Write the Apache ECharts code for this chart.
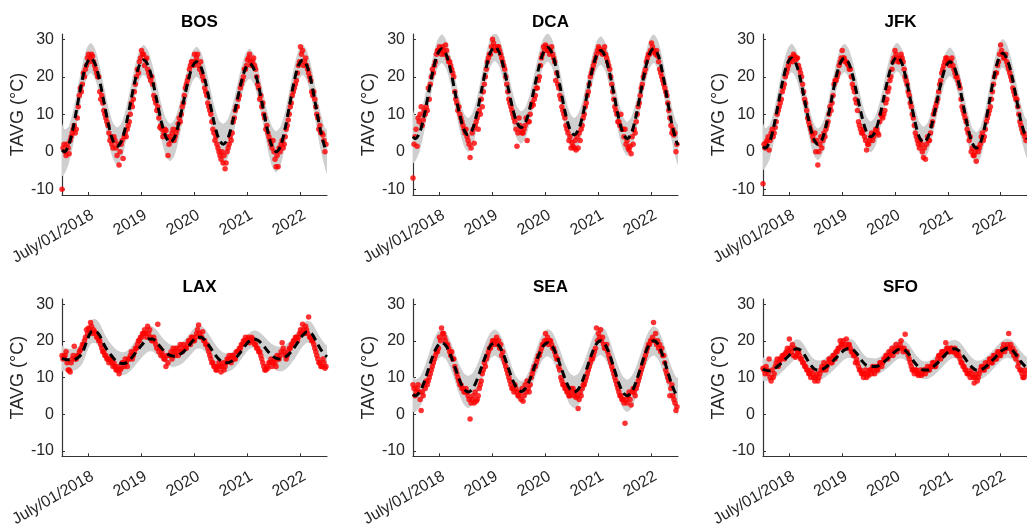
<!DOCTYPE html>
<html><head><meta charset="utf-8">
<script src="https://cdn.jsdelivr.net/npm/echarts@6/dist/echarts.min.js"></script>
<style>html,body{margin:0;padding:0;background:#fff}#c{width:1027px;height:529px}</style>
</head><body><div id="c"></div>
<script>
// ---------- data ----------
const stations = ['BOS', 'DCA', 'JFK', 'LAX', 'SEA', 'SFO'];
const xTickValues = [2018.5, 2019.5, 2020.5, 2021.5, 2022.5];
const xTickLabels = ['July/01/2018', '2019', '2020', '2021', '2022'];
const yTickValues = [-10, 0, 10, 20, 30];
const yLabel = 'TAVG (°C)';

// observed values, every two weeks from 2018-01-01 (obs) and one week later (obs2)
const BOS_obs = [-10,2,-1,1,3,5,7,6,12,17,18,20,23,26,25,25.5,23,21,20,14,13,10,8,5,4,1,
  3,-1,-3.5,2,-1.8,5,6,8,13,14,18,22,24,27,26,24.5,22,20,20,15,13,12,6.5,6,5,5.7,
  -1,4,5,3,5,7.5,8,12,15,18,20,23,24,26,25,23,24,20,17,15,12,10,6,3,2,0,
  -2,-3,-4.5,0,2,3,8,11,12,15,18,20,22,24.5,26,23,25,22,18,14,12,10,6,5,3,1,
  0,-4,-4,0,3,2,6,8.5,12,15,17,19,23,28,27,24,23,21,19,15,14,10,6,5,4.5,0];
const BOS_obs2 = [1,0,2,-0.5,4,6,5,9,15,16,21,22,25,24,26,24,22,20,16,15,11,9,7,3,2,4,
  1,2,0,3,4,4,7,10,12,16,20,21,25,26,23,25,21,19,18,14,11,9,7,4,6,4,
  2,3,6,4,6,9,10,13,17,19,22,24,23,24,26,22,21,19,16,13,11,8,5,4,1,-1,
  0,-1,-3,1,4,5,9,12,14,17,19,22,23,25,24,24,23,20,17,15,13,9,7,4,2,3,
  -2,-1,1,2,1,4,7,10,13,16,18,21,24,26,23,25,22,20,16,16,12,9,7,5,3,2];
const DCA_obs = [-7,4,1.5,8,12,8.5,10,11,14,20,21,24,27,28,26,27,28.5,25,24,22,20,14,11,10,8,6,
  6,3,-1.5,5,2.3,8,6,10,12,18,22,25,26,30,28,27,28,26,24,22,18,14,12,10,8,1.5,
  9,6,5,7,3,8,12,12.5,15,17,20,25,28,28.5,27,26,28,25,19,18,15,12,10,7,5,4,
  2.5,1,0.5,1,3,7,10,13,16,20,22,24,26,28,27,26,28,25,23,20,16,12,10,8,10,6,
  6,3,0.5,-0.5,2,5,10,13,17,20,22,25,26,29,27,26,25.5,22,20,18,16,13,9,5,4.5,0];
const DCA_obs2 = [2,6,9,10,7,11,12,17,18,22,23,26,27,27,28,26,27,24,23,21,16,13,12,9,7,5,
  4,2,1,6,7,9,11,14,16,20,24,26,28,29,27,28,27,25,23,20,16,13,11,9,6,5,
  7,5,6,9,8,10,13,14,17,19,23,26,27,28,27,27,26,24,21,17,14,11,9,6,3,1,
  1.5,3,4,5,6,9,12,15,18,21,23,25,27,27.5,26.5,27,26,24,22,18,14,11,8,7,6,4,
  2,1,1.5,4,6,8,12,15,18,21,24,26,27,28,26.5,27,24,21,19,17,15,11,7,6,5,2];
const JFK_obs = [-8.5,1,3,0.5,5,4,6.5,10,12,14,17,20,22,24,25,26,24.5,25,22,20,16,13,9,7,5,3,
  0,-3.5,2,1,5,6,8,12,13,18,19,21,24,27,25,24,23,22,18,16,13,8,6,5,4,0.5,
  2,4,3,5,6,4.5,10,9,11,14,17,20,24,27,25,24,26,24,20,18,15,12,9,5,3,1,
  2,-1.5,-2,4,3,7,10,12,14,18,21,23,25,24,23,25,22,20,19,17,12,10,8,5,4,1,
  -1,-2.5,0,2,5,4,8,10,12,16,20,21,24,28.5,26,25,24,22,20,17,15,14,10,7,5,4];
const JFK_obs2 = [2,2.5,4,3,6,5,8,11,13,16,18,21,23,25,24,25.5,25,23,21,18,14,11,8,6,4,5,
  3,0,4,3,4,7,10,11,15,19,20,23,25,25,24,23.5,22,20,17,14,11,7,5,6,3,2,
  3,5,4,6,5,8,9.5,10,13,16,19,22,25,26,24,25,25,22,19,16,13,10,7,4,2,3,
  0,1,2,3,5,8,11,13,16,19,22,24,25,24,24,23,21,20,18,14,11,9,6,3,0,-1,
  0,1,1,4,3,6,9,11,14,18,21,23,26,27,25,26,23,21,19,16,14,12,8,6,5,3];
const LAX_obs = [16,15.5,17,12,11.5,15,18.5,15,16,17.5,19,20,23,23.5,25,22,22.5,21,20,19,17,16,15,14,15,13,
  13,12,11,12.5,14,15,13,15,17,16,18,19,20,21,22,22,24,23,20,21,19,24.5,18,17,15,13,
  14,16,15,17,18,16,19,17,18,18,20,19,21,20,22,24.3,21,22.5,20,19,17,15,14,13,12,14,
  11.5,14,13,15,16,14,16,15,17,18,19,20,21,20.5,19.5,21,20,19,18,17,15,13,12,12.5,14,13,
  15,13,15,16,19.5,17,15,17,18,19,20,21,21,23,24.5,22,23,26.5,21,20,18,16,14,13,15,12.5];
const LAX_obs2 = [15,16,14,12,14,16,15,16,17,18,19,21,22,23,24,23,22,21,20,18,17,16,15,15,14,14,
  12,13,12,14,13,14,15,16,15,17,18,20,21,22,23,21,22,21,20,20,18,17,16,16,15,16,
  16,17,18,16,17,18,17,19,18,19,20,21,20,21,23,22,21,20,19,18,16,14,13,12,13,13,
  13,12,14,15,15,16,15,17,17,18,19,20,20,21,20,20.5,19,18,17,16,14,12,13,14,15,14,
  14,16,15,17,18,16,16,18,19,20,21,20,22,22,23,24,22,21,20,19,17,15,14,13,14,13];
const SEA_obs = [8,5,7,6,1,5,7,8,10,12,14,16,17,21,23.5,22,20,19,17,17,15,12,10,8,7,6,
  7,5,-1.3,4,3,3.5,5,8,11,14,15,17,18,20,19,21,20,19,17,14,12,10,8,7,8,6,
  5,4,3.5,8,9,6,10,12,13,15,16,18,19,22,21,20,19,18,16,15,12,9,8,7,6,5,
  6,5,4.5,1.5,6,7,8,10,12,14,15,17,23.5,22,23,21,18,19,16,14,12,10,8,6,5,4,
  -2.5,3,6,2.5,7,5,8,10,12,14,16,18,19,20,25,22,20,19,18,16,12,10,5,8,4,1];
const SEA_obs2 = [7,6,8,4,6,8,9,9,11,13,15,17,18,20,22,21,19,18,16,15,13,11,9,8,7,6,
  6,4,3,5,6,4,7,9,12,13,16,18,19,20,20,19,18,16,15,13,11,9,7,6,7,5,
  6,7,5,6,7,8,11,13,14,16,17,19,20,20,19,20,18,17,15,13,10,8,7,6,5,7,
  7,6,5,4,5,8,9,11,13,15,16,18,20,21,20,19,18,17,15,13,11,9,7,5,4,3,
  4,5,4,6,6,7,9,11,13,15,17,19,20,21,20,19,18,17,16,14,11,9,7,5,3,2];
const SFO_obs = [12.5,11,12,15,9,10,13,15,14,15,16,16.5,18,20.5,17,16,15.5,17,16,15,14,13,12,11,12,10,
  10,9,11,13,14,12,14,15,14,16,17,18,20,19,18,20.5,19,18,17,16,15,13,12,11,11,10,
  10.5,12,13,11,12,13,14,14,15,16,17,17,16,18,17,18,20,17,21.8,17,15,13,12,12,11,11,
  10.5,12,11,13,12,13,14,13,15,16,17,16,19.5,18,17,18,17,16.5,17,15,14,13,12,11,10,11,
  8.5,11,10,12,13,12,13,14,15,14,16,15,17,16,18,17,18,22,19,18,17,16,14,12,10,12];
const SFO_obs2 = [12,13,11,10,12,11,14,13,15,16,15,17,17,18,19,18,16,17,15,14,13,12,11,10,11,9,
  11,10,12,12,13,13,15,14,16,15,17,18,19,20,19,18,19,17,16,14,14,12,11,10,12,11,
  12,11,12,13,12,14,13,15,16,15,16,18,17,19,18,19,18,18,17,16,14,12,11,12,10.5,12,
  11,12,12,12,13,14,13,14,16,15,17,17,18,17,18,17,18,16,16,14,13,12,11,11,12,10,
  10,9,11,13,12,14,13,15,14,16,15,17,16,17,19,18,19,18,17,16,15,13,12,11,10,11];

// fitted curve: start of 2018, mid-month values for 2018..2022, end of 2022
const BOS_fit = [0.5,
  0,1.7,6.3,12.5,18.8,23.3,25,23.4,19.1,13.3,7.4,3.1,
  1.5,3.0,7.3,13.0,18.8,23.0,24.5,23.0,19.0,13.5,8.0,4.0,
  2.5,3.9,7.9,13.3,18.6,22.6,24,22.5,18.5,13.0,7.5,3.5,
  2,3.4,7.4,12.8,18.1,22.1,23.5,21.9,17.6,11.8,5.9,1.6,
  0,1.6,6.1,12.3,18.4,22.9,24.5,22.8,18.3,12,5.8,1.2,
  0];
const DCA_fit = [4,
  3.5,5.1,9.5,15.5,21.5,25.9,27.5,26,21.8,16,10.3,6.0,
  4.5,6.1,10.4,16.3,22.1,26.4,28,26.6,22.6,17.3,11.9,7.9,
  6.5,7.9,11.8,17.2,22.5,26.4,27.8,26.2,22,16.2,10.3,6.1,
  4.5,6.0,10.1,15.8,21.4,25.5,27,25.4,21.1,15.3,9.4,5.1,
  3.5,5.1,9.5,15.5,21.5,25.9,27.5,25.8,21,14.5,8,3.2,
  1.8];
const JFK_fit = [1.4,
  1,2.6,7,13,19,23.4,25,23.5,19.3,13.5,7.8,3.5,
  2,3.5,7.8,13.5,19.3,23.5,25,23.6,19.8,14.5,9.3,5.4,
  4,5.4,9.3,14.7,20,23.9,25.3,23.8,19.6,13.9,8.2,4,
  2.5,3.9,7.9,13.3,18.6,22.6,24,22.5,18.3,12.5,6.8,2.5,
  1,2.7,7.3,13.7,20,24.6,26.3,24.7,20.5,14.7,8.8,4.6,
  3.4];
const LAX_fit = [15.2,
  15,14.8,14.8,15.3,16.5,19.5,22.3,22.7,21.5,19,17,15.5,
  14.3,13.8,14,15,16.5,18,19.5,20.5,20.5,19.5,18,16.8,
  16,15.8,16.2,17,18.3,19.8,21,21,20,18.3,16.5,15,
  14.2,14,14.5,15.5,17,18.7,20,20.5,20,18.8,17.3,16,
  15.2,15,15.5,16.5,18,19.8,21.5,22.5,22,20,17.8,16.2,
  15.6];
const SEA_fit = [5.4,
  5,6,8.6,12.3,15.9,18.5,19.5,18.6,16.1,12.8,9.4,6.9,
  6,6.9,9.4,12.8,16.1,18.6,19.5,18.6,16.2,12.9,9.5,7.1,
  6.2,7.1,9.5,12.9,16.2,18.6,19.5,18.6,16.1,12.8,9.4,6.9,
  6,6.9,9.5,13,16.5,19.1,20,19,16.3,12.5,8.8,6,
  5,6,8.8,12.5,16.3,19,20,19,16.1,12.3,8.4,5.5,
  4.8];
const SFO_fit = [12.3,
  12,11.8,12.3,13.2,14.3,15.5,16.7,17.8,17.5,16,14,12.5,
  12,12.2,13,14,15.2,16.4,17.5,18,17.6,16.2,14.5,13.3,
  13.1,13,13.3,14.2,15.3,16.5,17.5,17.8,17.2,15.8,14,12.7,
  12,12,12.7,13.8,15,16.3,17.4,17.8,17.3,15.9,14.2,12.8,
  12,12.1,12.8,13.9,15.1,16.4,17.5,18,17.6,16.2,14.5,13.1,
  12.5];

// half-width of the confidence band, same sampling as the fit
const BOS_band = [7,
  6,5,4.5,4.2,4,4,4,4,4,4.2,4.5,4.8,
  5,4.8,4.4,4.1,4,4,4,4,4.1,4.4,4.7,5,
  5,4.8,4.4,4.1,4,4,4,4,4.1,4.4,4.7,5,
  5.5,5.2,4.6,4.1,4,4,4,4,4.1,4.4,4.8,5.3,
  5.5,5.2,4.6,4.1,4,4,4,4,4.2,4.5,4.9,5.3,
  5.8];
const DCA_band = [7,
  6,5,4.3,4,3.8,3.8,3.8,3.8,3.8,4,4.2,4.4,
  4.5,4.4,4.1,3.9,3.8,3.8,3.8,3.8,3.9,4.1,4.3,4.4,
  4.3,4.1,3.9,3.8,3.8,3.8,3.8,3.8,3.9,4.1,4.3,4.4,
  4.5,4.4,4.1,3.9,3.8,3.8,3.8,3.8,3.9,4.1,4.3,4.4,
  4.5,4.4,4.1,3.9,3.8,3.8,3.8,3.8,3.9,4.2,4.6,5,
  5.3];
const JFK_band = [6.2,
  5.3,4.6,4.1,3.9,3.8,3.8,3.8,3.8,3.8,3.9,4.1,4.2,
  4.2,4.1,3.9,3.8,3.8,3.8,3.8,3.8,3.8,3.9,4,4.1,
  4.1,4,3.9,3.8,3.8,3.8,3.8,3.8,3.8,3.9,4,4.1,
  4.2,4.1,3.9,3.8,3.8,3.8,3.8,3.8,3.8,3.9,4,4.1,
  4.2,4.1,3.9,3.8,3.8,3.8,3.8,3.8,3.9,4.1,4.4,4.7,
  5];
const LAX_band = [3.5,
  3.2,3.1,3,3,3,3.1,3.2,3.3,3.3,3.2,3.1,3.1,
  3.1,3.1,3.1,3.2,3.3,3.4,3.5,3.5,3.4,3.3,3.2,3.1,
  3,2.9,2.9,2.9,3,3.1,3.2,3.2,3.1,3,2.9,2.8,
  2.6,2.5,2.4,2.3,2.2,2.2,2.2,2.3,2.5,2.7,2.9,3.1,
  3.3,3.4,3.4,3.3,3.2,3.1,3,3,3,3,3,3,
  3];
const SEA_band = [4.7,
  4.4,4.1,3.9,3.8,3.8,3.8,3.8,3.8,3.8,3.9,4.1,4.3,
  4.4,4.3,4,3.8,3.7,3.6,3.6,3.6,3.5,3.3,3.1,2.9,
  2.8,2.8,3,3.3,3.5,3.6,3.7,3.8,3.9,4,4.1,4.3,
  4.4,4.3,4.1,3.9,3.8,3.8,3.9,4,4,4.1,4.2,4.3,
  4.4,4.3,4.1,3.9,3.8,3.9,4,4.1,4.2,4.3,4.5,4.7,
  5];
const SFO_band = [3.2,
  3,2.8,2.7,2.6,2.6,2.6,2.6,2.6,2.6,2.6,2.6,2.6,
  2.6,2.6,2.6,2.6,2.6,2.6,2.6,2.6,2.6,2.5,2.4,2.3,
  2.2,2.2,2.3,2.4,2.5,2.6,2.6,2.6,2.6,2.6,2.6,2.5,
  2.4,2.4,2.4,2.5,2.5,2.5,2.5,2.5,2.5,2.6,2.6,2.6,
  2.6,2.6,2.6,2.6,2.6,2.6,2.6,2.6,2.6,2.7,2.8,2.9,
  3];

// ---------- chart ----------
const obsAll = [BOS_obs, DCA_obs, JFK_obs, LAX_obs, SEA_obs, SFO_obs];
const obs2All = [BOS_obs2, DCA_obs2, JFK_obs2, LAX_obs2, SEA_obs2, SFO_obs2];
const fitAll = [BOS_fit, DCA_fit, JFK_fit, LAX_fit, SEA_fit, SFO_fit];
const bandAll = [BOS_band, DCA_band, JFK_band, LAX_band, SEA_band, SFO_band];

const FONT = '"Liberation Sans", Arial, Helvetica, sans-serif';
const TXT = '#262626';
const gridLeft = [62, 413, 763];
const gridTop = [34, 299];
const GW = 265, GH = 161;

function fitTime(i, n) { // start edge, mid-months, end edge
  if (i === 0) return 2018;
  if (i === n - 1) return 2023;
  return 2018 + (2 * (i - 1) + 1) / 24;
}
function obsTime(i) { return 2018 + i / 26; }
function obs2Time(i) { return 2018 + (i + 0.5) / 26; }

const grids = [], xAxes = [], yAxes = [], series = [], titles = [];
stations.forEach((name, p) => {
  const col = p % 3, row = Math.floor(p / 3);
  grids.push({ left: gridLeft[col], top: gridTop[row], width: GW, height: GH, containLabel: false });
  titles.push({
    text: name, left: gridLeft[col] + GW / 2, top: gridTop[row] - 25, textAlign: 'center',
    textStyle: { fontFamily: FONT, fontSize: 17, fontWeight: 'bold', color: '#000' }
  });
  xAxes.push({
    gridIndex: p, type: 'value', min: 2018, max: 2023,
    axisLine: { show: true, onZero: false, lineStyle: { color: '#333', width: 1.2 } },
    axisTick: { show: true, inside: true, length: 3, customValues: xTickValues, lineStyle: { color: '#333' } },
    axisLabel: {
      customValues: xTickValues, rotate: 30, align: 'right', verticalAlign: 'top', margin: 12,
      fontFamily: FONT, fontSize: 16, color: TXT,
      formatter: v => xTickLabels[xTickValues.findIndex(t => Math.abs(t - v) < 1e-6)] || ''
    },
    splitLine: { show: false }
  });
  yAxes.push({
    gridIndex: p, type: 'value', min: -11.5, max: 31.4,
    axisLine: { show: true, lineStyle: { color: '#333', width: 1.2 } },
    axisTick: { show: true, inside: true, length: 3, customValues: yTickValues, lineStyle: { color: '#333' } },
    axisLabel: { customValues: yTickValues, margin: 8, fontFamily: FONT, fontSize: 16, color: TXT },
    splitLine: { show: false },
    name: yLabel, nameLocation: 'middle', nameGap: 35,
    nameTextStyle: { fontFamily: FONT, fontSize: 18, color: TXT }
  });
  const fit = fitAll[p], band = bandAll[p], obs = obsAll[p], obs2 = obs2All[p];
  const n = fit.length;
  // confidence band as one polygon through the axis scales
  series.push({
    type: 'custom', xAxisIndex: p, yAxisIndex: p, data: [0], clip: true, silent: true, z: 1,
    renderItem: (params, api) => {
      const up = fit.map((v, i) => api.coord([fitTime(i, n), v + band[i]]));
      const lo = fit.map((v, i) => api.coord([fitTime(i, n), v - band[i]])).reverse();
      return { type: 'polygon', shape: { points: up.concat(lo), smooth: 0.25 }, style: { fill: '#cfcfcf', stroke: null } };
    }
  });
  const pts = obs.map((v, i) => [obsTime(i), v]).concat(obs2.map((v, i) => [obs2Time(i), v]));
  series.push({
    type: 'scatter', xAxisIndex: p, yAxisIndex: p, data: pts,
    symbolSize: 5.5, itemStyle: { color: '#ff0000' }, silent: true, z: 2
  });
  series.push({
    type: 'line', xAxisIndex: p, yAxisIndex: p, data: fit.map((v, i) => [fitTime(i, n), v]),
    smooth: 0.3, symbol: 'none', lineStyle: { color: '#000', width: 3, type: [8, 5] }, silent: true, z: 3
  });
});

const chart = echarts.init(document.getElementById('c'), null, { renderer: 'canvas' });
chart.setOption({
  animation: false, backgroundColor: '#fff',
  title: titles, grid: grids, xAxis: xAxes, yAxis: yAxes, series: series
});
</script></body></html>
